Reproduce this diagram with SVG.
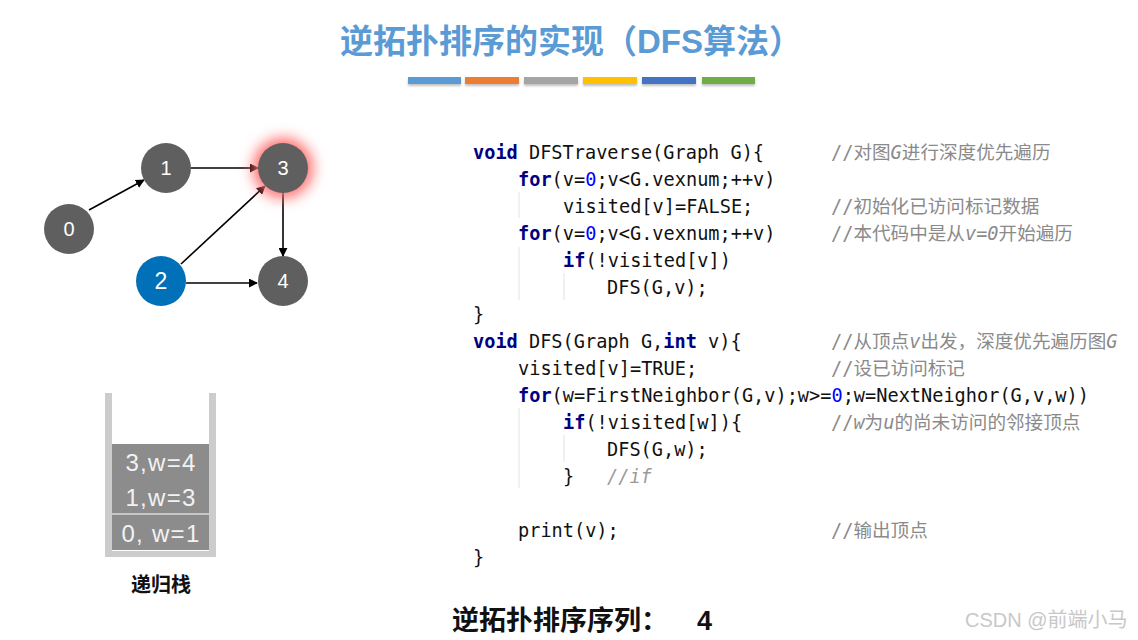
<svg xmlns="http://www.w3.org/2000/svg" width="1138" height="640" viewBox="0 0 1138 640">
<style>
.title{font-family:"Liberation Sans","Noto Sans CJK SC",sans-serif;font-size:33px;font-weight:bold;fill:#5b9bd5}
.node circle{fill:#5f5f5f}
.lbl{font-family:"Liberation Sans",sans-serif;font-size:20px;fill:#fff;text-anchor:middle}
.edge{stroke:#000;stroke-width:1.6;fill:none;marker-end:url(#arr)}
.code{font-family:"DejaVu Sans Mono","Noto Sans CJK SC",monospace;font-size:18.6px;fill:#111}
.kw{fill:#000080;font-weight:bold}
.num{fill:#0000ff}
.cm{font-family:"DejaVu Sans Mono","Noto Sans CJK SC",monospace;font-size:18.6px;fill:#8a8a8a}
.it{font-style:italic}
.guide{stroke:#e2e2e2;stroke-width:1}
.stk{font-family:"Liberation Sans",sans-serif;font-size:24px;fill:#f2f2f2;text-anchor:middle;letter-spacing:1.3px}
</style>
<defs>
<marker id="arr" viewBox="0 0 10 10" refX="9" refY="5" markerWidth="9" markerHeight="9" markerUnits="userSpaceOnUse" orient="auto">
<path d="M0,0 L10,5 L0,10 z" fill="#000"/>
</marker>
<filter id="glow" x="-1" y="-1" width="3" height="3"><feGaussianBlur stdDeviation="7"/></filter>
<filter id="bsh" x="-0.2" y="-1" width="1.4" height="3"><feGaussianBlur stdDeviation="1.2"/></filter>
</defs>
<rect width="1138" height="640" fill="#fff"/>

<text class="title" x="340" y="53">逆拓扑排序的实现（DFS算法）</text>
<g id="bars">
<g filter="url(#bsh)" fill="#999" opacity="0.6">
<rect x="408" y="79" width="53" height="7"/><rect x="465" y="79" width="54" height="7"/><rect x="524" y="79" width="54" height="7"/><rect x="583" y="79" width="54" height="7"/><rect x="642" y="79" width="54" height="7"/><rect x="702" y="79" width="53" height="7"/>
</g>
<rect x="408" y="77" width="53" height="7" fill="#5b9bd5"/>
<rect x="465" y="77" width="54" height="7" fill="#ed7d31"/>
<rect x="524" y="77" width="54" height="7" fill="#a5a5a5"/>
<rect x="583" y="77" width="54" height="7" fill="#ffc000"/>
<rect x="642" y="77" width="54" height="7" fill="#4472c4"/>
<rect x="702" y="77" width="53" height="7" fill="#70ad47"/>
</g>

<g id="connectors">
<line class="edge" x1="89" y1="210" x2="144" y2="180"/>
<line class="edge" x1="191" y1="168" x2="258" y2="168"/>
<line class="edge" x1="181" y1="264" x2="265" y2="186"/>
<line class="edge" x1="186" y1="283" x2="257" y2="283"/>
<line class="edge" x1="283" y1="193" x2="283" y2="256"/>
</g>

<g id="node0" class="node"><circle cx="69" cy="229" r="25"/><text class="lbl" x="69" y="236">0</text></g>
<g id="node1" class="node"><circle cx="166" cy="168" r="25"/><text class="lbl" x="166" y="175">1</text></g>
<g id="node3" class="node"><circle cx="283" cy="168" r="30" style="fill:#ff6a6a" filter="url(#glow)"/><circle cx="283" cy="168" r="25"/><text class="lbl" x="283" y="175">3</text></g>
<g id="node2" class="node"><circle cx="161" cy="281" r="25" style="fill:#0070b8"/><text class="lbl" x="161" y="289" style="font-size:23px">2</text></g>
<g id="node4" class="node"><circle cx="283" cy="281" r="25"/><text class="lbl" x="283" y="288">4</text></g>

<g id="stack">
<rect x="105" y="393" width="7" height="164" fill="#cccccc"/>
<rect x="209" y="393" width="7" height="164" fill="#cccccc"/>
<rect x="105" y="551" width="111" height="6" fill="#cccccc"/>
<rect x="112" y="444" width="97" height="106" fill="#8c8c8c"/>
<line x1="112" y1="514" x2="209" y2="514" stroke="#fff" stroke-width="1.2"/>
<text class="stk" x="161" y="471">3,w=4</text>
<text class="stk" x="161" y="506">1,w=3</text>
<text class="stk" x="161" y="542">0, w=1</text>
<text x="161" y="592" text-anchor="middle" style="font-family:'Noto Sans CJK SC',sans-serif;font-size:20px;font-weight:bold;fill:#111">递归栈</text>
</g>

<g id="code">
<line class="guide" x1="519" y1="192" x2="519" y2="218"/>
<line class="guide" x1="519" y1="247" x2="519" y2="300"/>
<line class="guide" x1="564" y1="273" x2="564" y2="300"/>
<line class="guide" x1="519" y1="408" x2="519" y2="488"/>
<line class="guide" x1="564" y1="435" x2="564" y2="462"/>

<text class="code" x="473" y="159"><tspan class="kw">void</tspan> DFSTraverse(Graph G){</text>
<text class="code" x="518" y="186"><tspan class="kw">for</tspan>(v=<tspan class="num">0</tspan>;v&lt;G.vexnum;++v)</text>
<text class="code" x="563" y="213">visited[v]=FALSE;</text>
<text class="code" x="518" y="240"><tspan class="kw">for</tspan>(v=<tspan class="num">0</tspan>;v&lt;G.vexnum;++v)</text>
<text class="code" x="563" y="267"><tspan class="kw">if</tspan>(!visited[v])</text>
<text class="code" x="607" y="294">DFS(G,v);</text>
<text class="code" x="473" y="321">}</text>
<text class="code" x="473" y="348"><tspan class="kw">void</tspan> DFS(Graph G,<tspan class="kw">int</tspan> v){</text>
<text class="code" x="518" y="375">visited[v]=TRUE;</text>
<text class="code" x="518" y="402"><tspan class="kw">for</tspan>(w=FirstNeighbor(G,v);w&gt;=<tspan class="num">0</tspan>;w=NextNeighor(G,v,w))</text>
<text class="code" x="563" y="429"><tspan class="kw">if</tspan>(!visited[w]){</text>
<text class="code" x="607" y="456">DFS(G,w);</text>
<text class="code" x="563" y="483">}</text>
<text class="cm it" x="607" y="483" style="fill:#9a9a9a">//if</text>
<text class="code" x="518" y="537">print(v);</text>
<text class="code" x="473" y="564">}</text>

<text class="cm" x="831" y="159">//对图<tspan class="it">G</tspan>进行深度优先遍历</text>
<text class="cm" x="831" y="213">//初始化已访问标记数据</text>
<text class="cm" x="831" y="240">//本代码中是从<tspan class="it">v=0</tspan>开始遍历</text>
<text class="cm" x="831" y="348">//从顶点<tspan class="it">v</tspan>出发，深度优先遍历图<tspan class="it">G</tspan></text>
<text class="cm" x="831" y="375">//设已访问标记</text>
<text class="cm" x="831" y="429">//<tspan class="it">w</tspan>为<tspan class="it">u</tspan>的尚未访问的邻接顶点</text>
<text class="cm" x="831" y="537">//输出顶点</text>
</g>

<g id="result" style="font-family:'Noto Sans CJK SC',sans-serif;font-size:27px;font-weight:bold;fill:#111">
<text x="452" y="630">逆拓扑排序序列：</text>
<text x="697" y="630" style="font-family:'Liberation Sans',sans-serif">4</text>
</g>
<text x="965" y="627" style="font-family:'Liberation Sans','Noto Sans CJK SC',sans-serif;font-size:20px;fill:#c8c8c8">CSDN @前端小马</text>
</svg>
